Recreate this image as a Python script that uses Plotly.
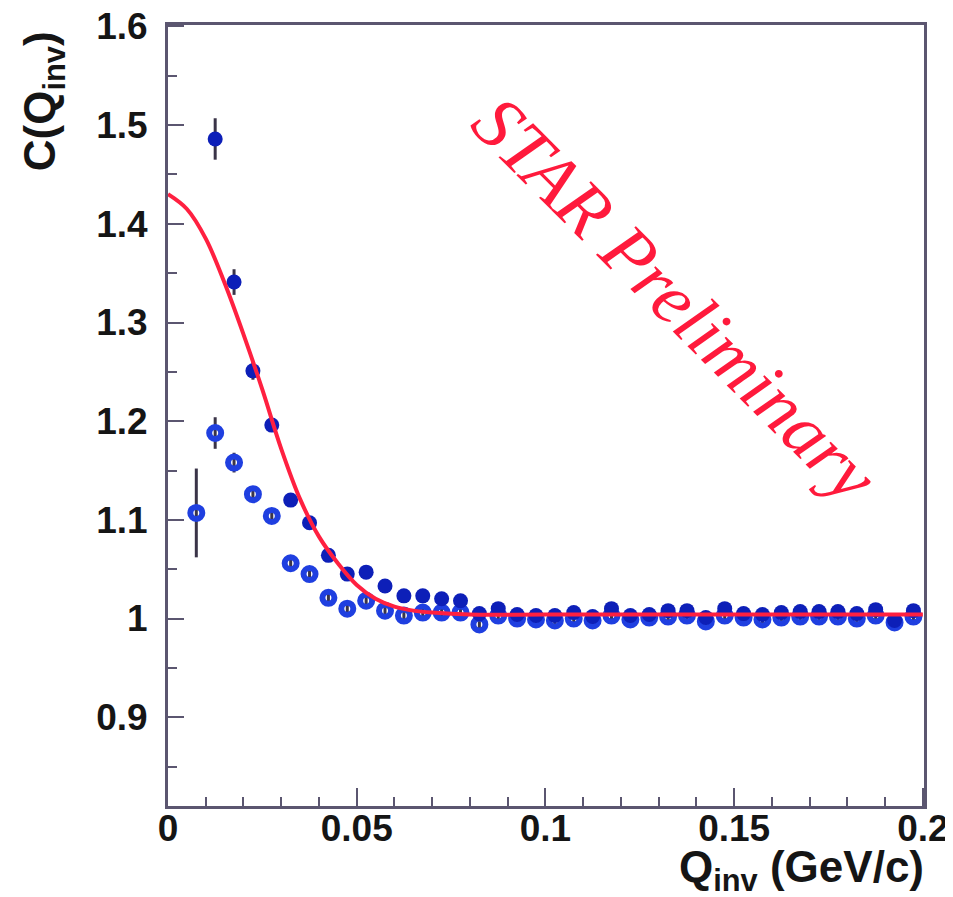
import plotly.graph_objects as go

# ---- data ----
q_open = [0.0075, 0.0125, 0.0175, 0.0225, 0.0275, 0.0325, 0.0375, 0.0425, 0.0475, 0.0525,
          0.0575, 0.0625, 0.0675, 0.0725, 0.0775, 0.0825, 0.0875, 0.0925, 0.0975, 0.1025,
          0.1075, 0.1125, 0.1175, 0.1225, 0.1275, 0.1325, 0.1375, 0.1425, 0.1475, 0.1525,
          0.1575, 0.1625, 0.1675, 0.1725, 0.1775, 0.1825, 0.1875, 0.1925, 0.1975]
c_open = [1.107, 1.188, 1.158, 1.126, 1.104, 1.056, 1.045, 1.021, 1.010, 1.018,
          1.008, 1.003, 1.006, 1.006, 1.006, 0.994, 1.003, 1.000, 0.999, 0.998,
          1.000, 0.998, 1.003, 0.999, 1.001, 1.002, 1.003, 0.997, 1.003, 1.001,
          0.999, 1.001, 1.002, 1.002, 1.002, 1.000, 1.003, 0.996, 1.002]
e_open = [0.045, 0.016, 0.010, 0.008, 0.007, 0.006, 0.006, 0.005, 0.005, 0.005,
          0.005, 0.005, 0.005, 0.005, 0.005, 0.005, 0.005, 0.005, 0.005, 0.005,
          0.005, 0.005, 0.005, 0.005, 0.005, 0.005, 0.005, 0.005, 0.005, 0.005,
          0.005, 0.005, 0.005, 0.005, 0.005, 0.005, 0.005, 0.005, 0.005]

q_full = [0.0125, 0.0175, 0.0225, 0.0275, 0.0325, 0.0375, 0.0425, 0.0475, 0.0525, 0.0575,
          0.0625, 0.0675, 0.0725, 0.0775, 0.0825, 0.0875, 0.0925, 0.0975, 0.1025, 0.1075,
          0.1125, 0.1175, 0.1225, 0.1275, 0.1325, 0.1375, 0.1425, 0.1475, 0.1525, 0.1575,
          0.1625, 0.1675, 0.1725, 0.1775, 0.1825, 0.1875, 0.1925, 0.1975]
c_full = [1.486, 1.341, 1.251, 1.196, 1.120, 1.097, 1.064, 1.045, 1.047, 1.033,
          1.023, 1.023, 1.020, 1.018, 1.005, 1.010, 1.004, 1.003, 1.003, 1.006,
          1.002, 1.010, 1.003, 1.004, 1.008, 1.008, 1.001, 1.010, 1.005, 1.004,
          1.006, 1.007, 1.007, 1.007, 1.005, 1.009, 0.998, 1.008]
e_full = [0.021, 0.013, 0.009, 0.007, 0.006, 0.006, 0.005, 0.005, 0.005, 0.005,
          0.005, 0.005, 0.005, 0.005, 0.005, 0.005, 0.005, 0.005, 0.005, 0.005,
          0.005, 0.005, 0.005, 0.005, 0.005, 0.005, 0.005, 0.005, 0.005, 0.005,
          0.005, 0.005, 0.005, 0.005, 0.005, 0.005, 0.005, 0.005]

q_fit = [0.0, 0.005, 0.010, 0.015, 0.020, 0.025, 0.030, 0.035, 0.040, 0.045,
         0.050, 0.055, 0.060, 0.065, 0.070, 0.080, 0.100, 0.150, 0.200]
c_fit = [1.430, 1.415, 1.385, 1.340, 1.288, 1.232, 1.172, 1.121, 1.083, 1.056,
         1.034, 1.020, 1.012, 1.008, 1.006, 1.004, 1.004, 1.004, 1.004]

x_ticks = [0, 0.05, 0.1, 0.15, 0.2]
x_ticktext = ["0", "0.05", "0.1", "0.15", "0.2"]
y_ticks = [0.9, 1.0, 1.1, 1.2, 1.3, 1.4, 1.5, 1.6]
y_ticktext = ["0.9", "1", "1.1", "1.2", "1.3", "1.4", "1.5", "1.6"]

FONT = "Liberation Sans, Arial, sans-serif"
AXC = "#5b5670"

fig = go.Figure()
fig.add_trace(go.Scatter(
    x=q_open, y=c_open, mode="markers",
    marker=dict(symbol="circle-open", size=12, color="#1f3fe0", line=dict(width=6, color="#1f3fe0")),
    error_y=dict(type="data", array=e_open, color="#3a3448", thickness=3, width=0),
    showlegend=False))
fig.add_trace(go.Scatter(
    x=q_full, y=c_full, mode="markers",
    marker=dict(symbol="circle", size=15, color="#0d1fb8"),
    error_y=dict(type="data", array=e_full, color="#3a3448", thickness=3, width=0),
    showlegend=False))
fig.add_trace(go.Scatter(
    x=q_fit, y=c_fit, mode="lines",
    line=dict(color="#ff2040", width=4, shape="spline", smoothing=1.0),
    showlegend=False))

fig.update_xaxes(
    range=[0, 0.2003], tickvals=x_ticks, ticktext=x_ticktext,
    ticks="inside", ticklen=18, tickwidth=2, tickcolor=AXC,
    minor=dict(tick0=0, dtick=0.01, ticks="inside", ticklen=9, tickwidth=2, tickcolor=AXC),
    showline=True, linecolor=AXC, linewidth=3, mirror=True,
    showgrid=False, zeroline=False, automargin=False, ticklabeloverflow="allow",
    tickfont=dict(family=FONT, size=37, color="#151515", weight="bold"),
    ticklabelstandoff=-12)
fig.update_yaxes(
    range=[0.81, 1.6015], tickvals=y_ticks, ticktext=y_ticktext,
    ticks="inside", ticklen=16, tickwidth=2, tickcolor=AXC,
    minor=dict(tick0=0.8, dtick=0.05, ticks="inside", ticklen=9, tickwidth=2, tickcolor=AXC),
    showline=True, linecolor=AXC, linewidth=3, mirror=True,
    showgrid=False, zeroline=False, automargin=False, ticklabeloverflow="allow",
    tickfont=dict(family=FONT, size=37, color="#151515", weight="bold"),
    ticklabelstandoff=10)

fig.add_annotation(
    text="C(Q<sub>inv</sub>)", xref="paper", yref="paper",
    x=-0.165, y=0.995, xanchor="center", yanchor="top", textangle=-90,
    showarrow=False, font=dict(family=FONT, size=44, color="#151515", weight="bold"))
fig.add_annotation(
    text="Q<sub>inv</sub> (GeV/c)", xref="paper", yref="paper",
    x=1.003, y=-0.082, xanchor="right", yanchor="middle",
    showarrow=False, font=dict(family=FONT, size=44, color="#151515", weight="bold"))
fig.add_annotation(
    text="STAR Preliminary", xref="x", yref="y",
    x=0.1345, y=1.324, textangle=45, showarrow=False,
    font=dict(family="Liberation Serif, Times New Roman, serif", size=74, color="#ff1a3c", style="italic"))

# the page body adds an 8px margin, so the figure is sized to fit the 953x897 window
fig.update_layout(
    width=945, height=889,
    margin=dict(l=160, r=29, t=17, b=91, autoexpand=False),
    paper_bgcolor="white", plot_bgcolor="white")

fig.write_html("out.html")
